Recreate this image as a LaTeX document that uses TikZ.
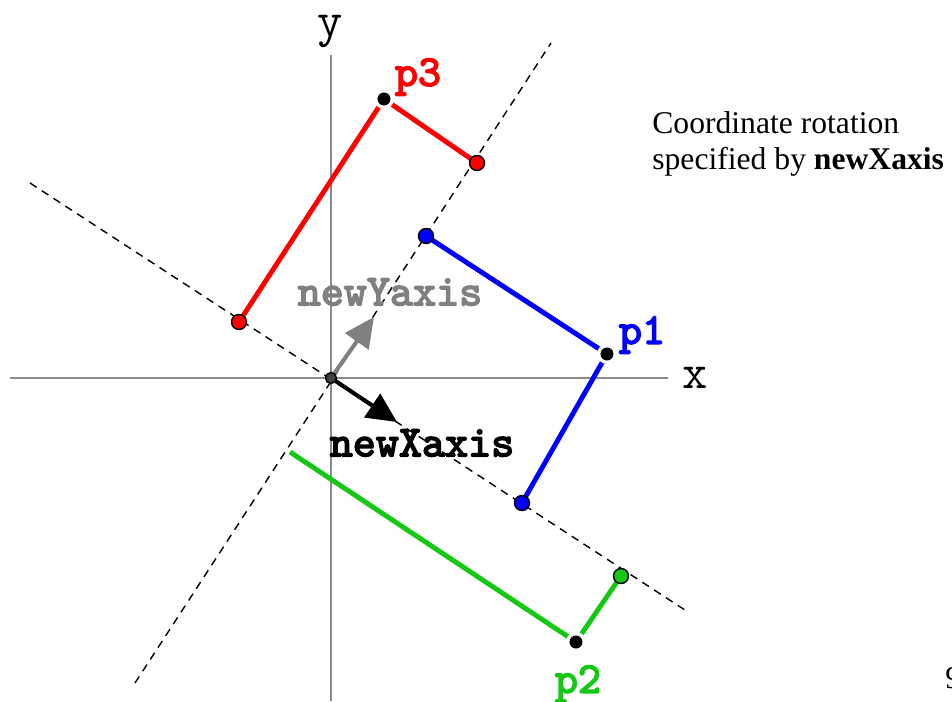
\documentclass[tikz,border=0pt]{standalone}
\usepackage{fontspec}
\setmainfont{Liberation Serif}
\newfontfamily\labelfont[FakeBold=3.5]{lmmono10-regular.otf}
\usetikzlibrary{arrows.meta}
\usepackage{xcolor}
\definecolor{axisgrey}{HTML}{8A8A8A}
\definecolor{vecgrey}{HTML}{808080}
\definecolor{ptred}{HTML}{FF0000}
\definecolor{ptblue}{HTML}{0000FF}
\definecolor{ptgreen}{HTML}{14C814}

\tikzset{
  axisline/.style={axisgrey,line width=1.1pt},
  rotline/.style={dash pattern=on 4.5pt off 3.5pt,line width=0.8pt},
  projline/.style={line width=2.8pt},
  projdot/.style={circle,draw=black,line width=0.8pt,inner sep=0pt,minimum size=0.3cm},
  ptlabel/.style={font=\fontsize{25}{25}\selectfont\labelfont},
  axislabel/.style={font=\fontsize{28}{28}\selectfont\ttfamily},
  vecarrow/.style={line width=2.3pt,-{Triangle[length=17pt,width=16pt]}}
}

\begin{document}
\begin{tikzpicture}
  \useasboundingbox (-6.62,-6.46) rectangle (12.42,7.56);
  % Axes
  \coordinate (O) at (0,0);
  \coordinate (xleft) at (-6.42,0);
  \coordinate (xright) at (6.74,0);
  \coordinate (ybottom) at (0,-6.46);
  \coordinate (ytop) at (0,6.46);
  \draw[axisline] (xleft) -- (xright);
  \draw[axisline] (ybottom) -- (ytop);
  \node[axislabel] (xlabel) at (7.28,0) {x};
  \node[axislabel] (ylabel) at (-0.02,6.92) {y};
  % Rotated axes
  \coordinate (newxa) at (-6.02,3.90);
  \coordinate (newxb) at (7.14,-4.68);
  \coordinate (newya) at (-3.92,-6.10);
  \coordinate (newyb) at (4.40,6.70);
  \draw[rotline] (newxa) -- (newxb);
  \draw[rotline] (newya) -- (newyb);
  % Points and their projections
  \coordinate (p1) at (5.52,0.48);
  \coordinate (p2) at (4.90,-5.28);
  \coordinate (p3) at (1.06,5.58);
  \coordinate (blueY) at (1.90,2.84);
  \coordinate (blueX) at (3.82,-2.50);
  \coordinate (greenX) at (5.80,-3.96);
  \coordinate (greenY) at (-0.82,-1.48);
  \coordinate (redY) at (2.92,4.30);
  \coordinate (redX) at (-1.84,1.12);
  \draw[projline,ptred] (redX) -- (p3) -- (redY);
  \draw[projline,ptblue] (blueY) -- (p1) -- (blueX);
  \draw[projline,ptgreen] (greenY) -- (p2) -- (greenX);
  % New axis vectors
  \coordinate (newytip) at (0.86,1.22);
  \coordinate (newxtip) at (1.32,-0.88);
  \draw[vecarrow,vecgrey] (O) -- (newytip);
  \draw[vecarrow,black] (O) -- (newxtip);
  \node[ptlabel,vecgrey] (newylabel) at (1.18,1.72) {newYaxis};
  \node[ptlabel,black] (newxlabel) at (1.82,-1.30) {newXaxis};
  % Dots
  \foreach \pt in {p1,p2,p3}{
    \fill[white] (\pt) circle (0.2);
    \fill[black] (\pt) circle (0.13);
  }
  \node[projdot,fill=ptred] (redYdot) at (redY) {};
  \node[projdot,fill=ptred] (redXdot) at (redX) {};
  \node[projdot,fill=ptblue] (blueYdot) at (blueY) {};
  \node[projdot,fill=ptblue] (blueXdot) at (blueX) {};
  \node[projdot,fill=ptgreen] (greenXdot) at (greenX) {};
  \fill[darkgray,draw=black,line width=0.8pt] (O) circle (0.11);
  % Point labels
  \node[ptlabel,ptblue] (p1label) at (6.22,0.86) {p1};
  \node[ptlabel,ptgreen] (p2label) at (4.94,-6.12) {p2};
  \node[ptlabel,ptred] (p3label) at (1.74,6.02) {p3};
  % Caption
  \node[anchor=west,align=left,inner sep=0pt,font=\fontsize{18}{20}\selectfont] (caption) at (6.42,4.68)
    {Coordinate rotation\\specified by \textbf{newXaxis}};
  \node[anchor=west,inner sep=0pt,font=\fontsize{18}{20}\selectfont] (pagenum) at (12.28,-6.0) {9};
\end{tikzpicture}
\end{document}
